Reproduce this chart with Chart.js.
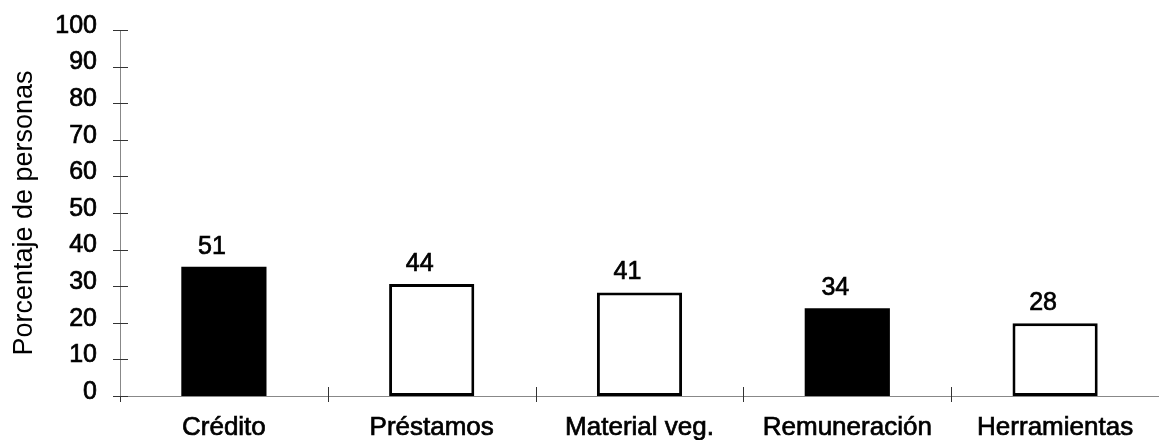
<!DOCTYPE html>
<html>
<head>
<meta charset="utf-8">
<script src="https://cdn.jsdelivr.net/npm/chart.js@4"></script>
<style>
  body { margin: 0; background: #fff; }
  #wrap { width: 1159px; height: 440px; position: relative; }
</style>
</head>
<body>
<div id="wrap"><canvas id="barChart"></canvas></div>
<script>
// categories and values
const categories = ['Crédito', 'Préstamos', 'Material veg.', 'Remuneración', 'Herramientas'];
const barHeights = [35.3, 30.6, 28.3, 24.0, 19.9];   // drawn bar heights (axis units)
const barLabels = ['51', '44', '41', '34', '28'];     // numbers printed over the bars
const barFills = ['#000000', '#ffffff', '#ffffff', '#000000', '#ffffff'];
const yTicks = [0, 10, 20, 30, 40, 50, 60, 70, 80, 90, 100];

const FONT = 'Arial, "Liberation Sans", sans-serif';

// crossing tick marks on both axes
const axisTicks = {
  id: 'axisTicks',
  afterDraw(chart) {
    const ctx = chart.ctx;
    const x = chart.scales.x;
    const y = chart.scales.y;
    const area = chart.chartArea;
    ctx.save();
    ctx.strokeStyle = '#333';
    ctx.lineWidth = 1;
    ctx.beginPath();
    yTicks.forEach(v => {
      const py = Math.round(y.getPixelForValue(v)) + 0.5;
      ctx.moveTo(area.left - 7, py);
      ctx.lineTo(area.left + 8, py);
    });
    for (let i = 0; i < categories.length - 1; i++) {
      const px = Math.round((x.getPixelForTick(i) + x.getPixelForTick(i + 1)) / 2) + 0.5;
      ctx.moveTo(px, area.bottom - 9);
      ctx.lineTo(px, area.bottom + 6);
    }
    // y axis runs a little below zero
    ctx.moveTo(area.left + 0.5, area.bottom);
    ctx.lineTo(area.left + 0.5, area.bottom + 6);
    ctx.stroke();
    ctx.restore();
  }
};

// numbers above the bars
const barValueLabels = {
  id: 'barValueLabels',
  afterDatasetsDraw(chart) {
    const ctx = chart.ctx;
    const meta = chart.getDatasetMeta(0);
    ctx.save();
    ctx.fillStyle = '#000';
    ctx.strokeStyle = '#000';
    ctx.lineWidth = 0.7;
    ctx.font = '25px ' + FONT;
    ctx.textAlign = 'center';
    ctx.textBaseline = 'middle';
    meta.data.forEach((bar, i) => {
      ctx.strokeText(barLabels[i], bar.x - 12, bar.y - 20);
      ctx.fillText(barLabels[i], bar.x - 12, bar.y - 20);
    });
    ctx.restore();
  }
};

new Chart(document.getElementById('barChart'), {
  type: 'bar',
  data: {
    labels: categories,
    datasets: [{
      data: barHeights,
      backgroundColor: barFills,
      borderColor: '#000',
      borderWidth: barFills.map(c => c === '#000000' ? 0 : 3),
      borderSkipped: false,
      barPercentage: 0.41,
      categoryPercentage: 1
    }]
  },
  options: {
    responsive: true,
    maintainAspectRatio: false,
    animation: false,
    layout: { padding: { top: 30, right: 0, left: 0, bottom: 0 } },
    plugins: {
      legend: { display: false },
      tooltip: { enabled: false }
    },
    scales: {
      x: {
        offset: true,
        // hidden tick length used only as label distance
        grid: { display: false, drawTicks: true, tickLength: 16 },
        border: { display: true, color: '#888', width: 1 },
        ticks: {
          color: '#000',
          textStrokeColor: '#000',
          textStrokeWidth: 0.7,
          font: { family: FONT, size: 26 },
          padding: 0,
          maxRotation: 0,
          autoSkip: false
        },
        afterFit(scale) { scale.height = 44; }
      },
      y: {
        min: 0,
        max: 100,
        grid: { display: false, drawTicks: true, tickLength: 23 },
        border: { display: true, color: '#888', width: 1 },
        ticks: {
          stepSize: 10,
          color: '#000',
          textStrokeColor: '#000',
          textStrokeWidth: 0.7,
          font: { family: FONT, size: 25 },
          padding: 0,
          labelOffset: -4
        },
        title: {
          display: true,
          text: 'Porcentaje de personas',
          color: '#000',
          font: { family: FONT, size: 27 },
          padding: { top: 8, bottom: 0 }
        },
        afterFit(scale) { scale.width = 120; }
      }
    }
  },
  plugins: [axisTicks, barValueLabels]
});
</script>
</body>
</html>
